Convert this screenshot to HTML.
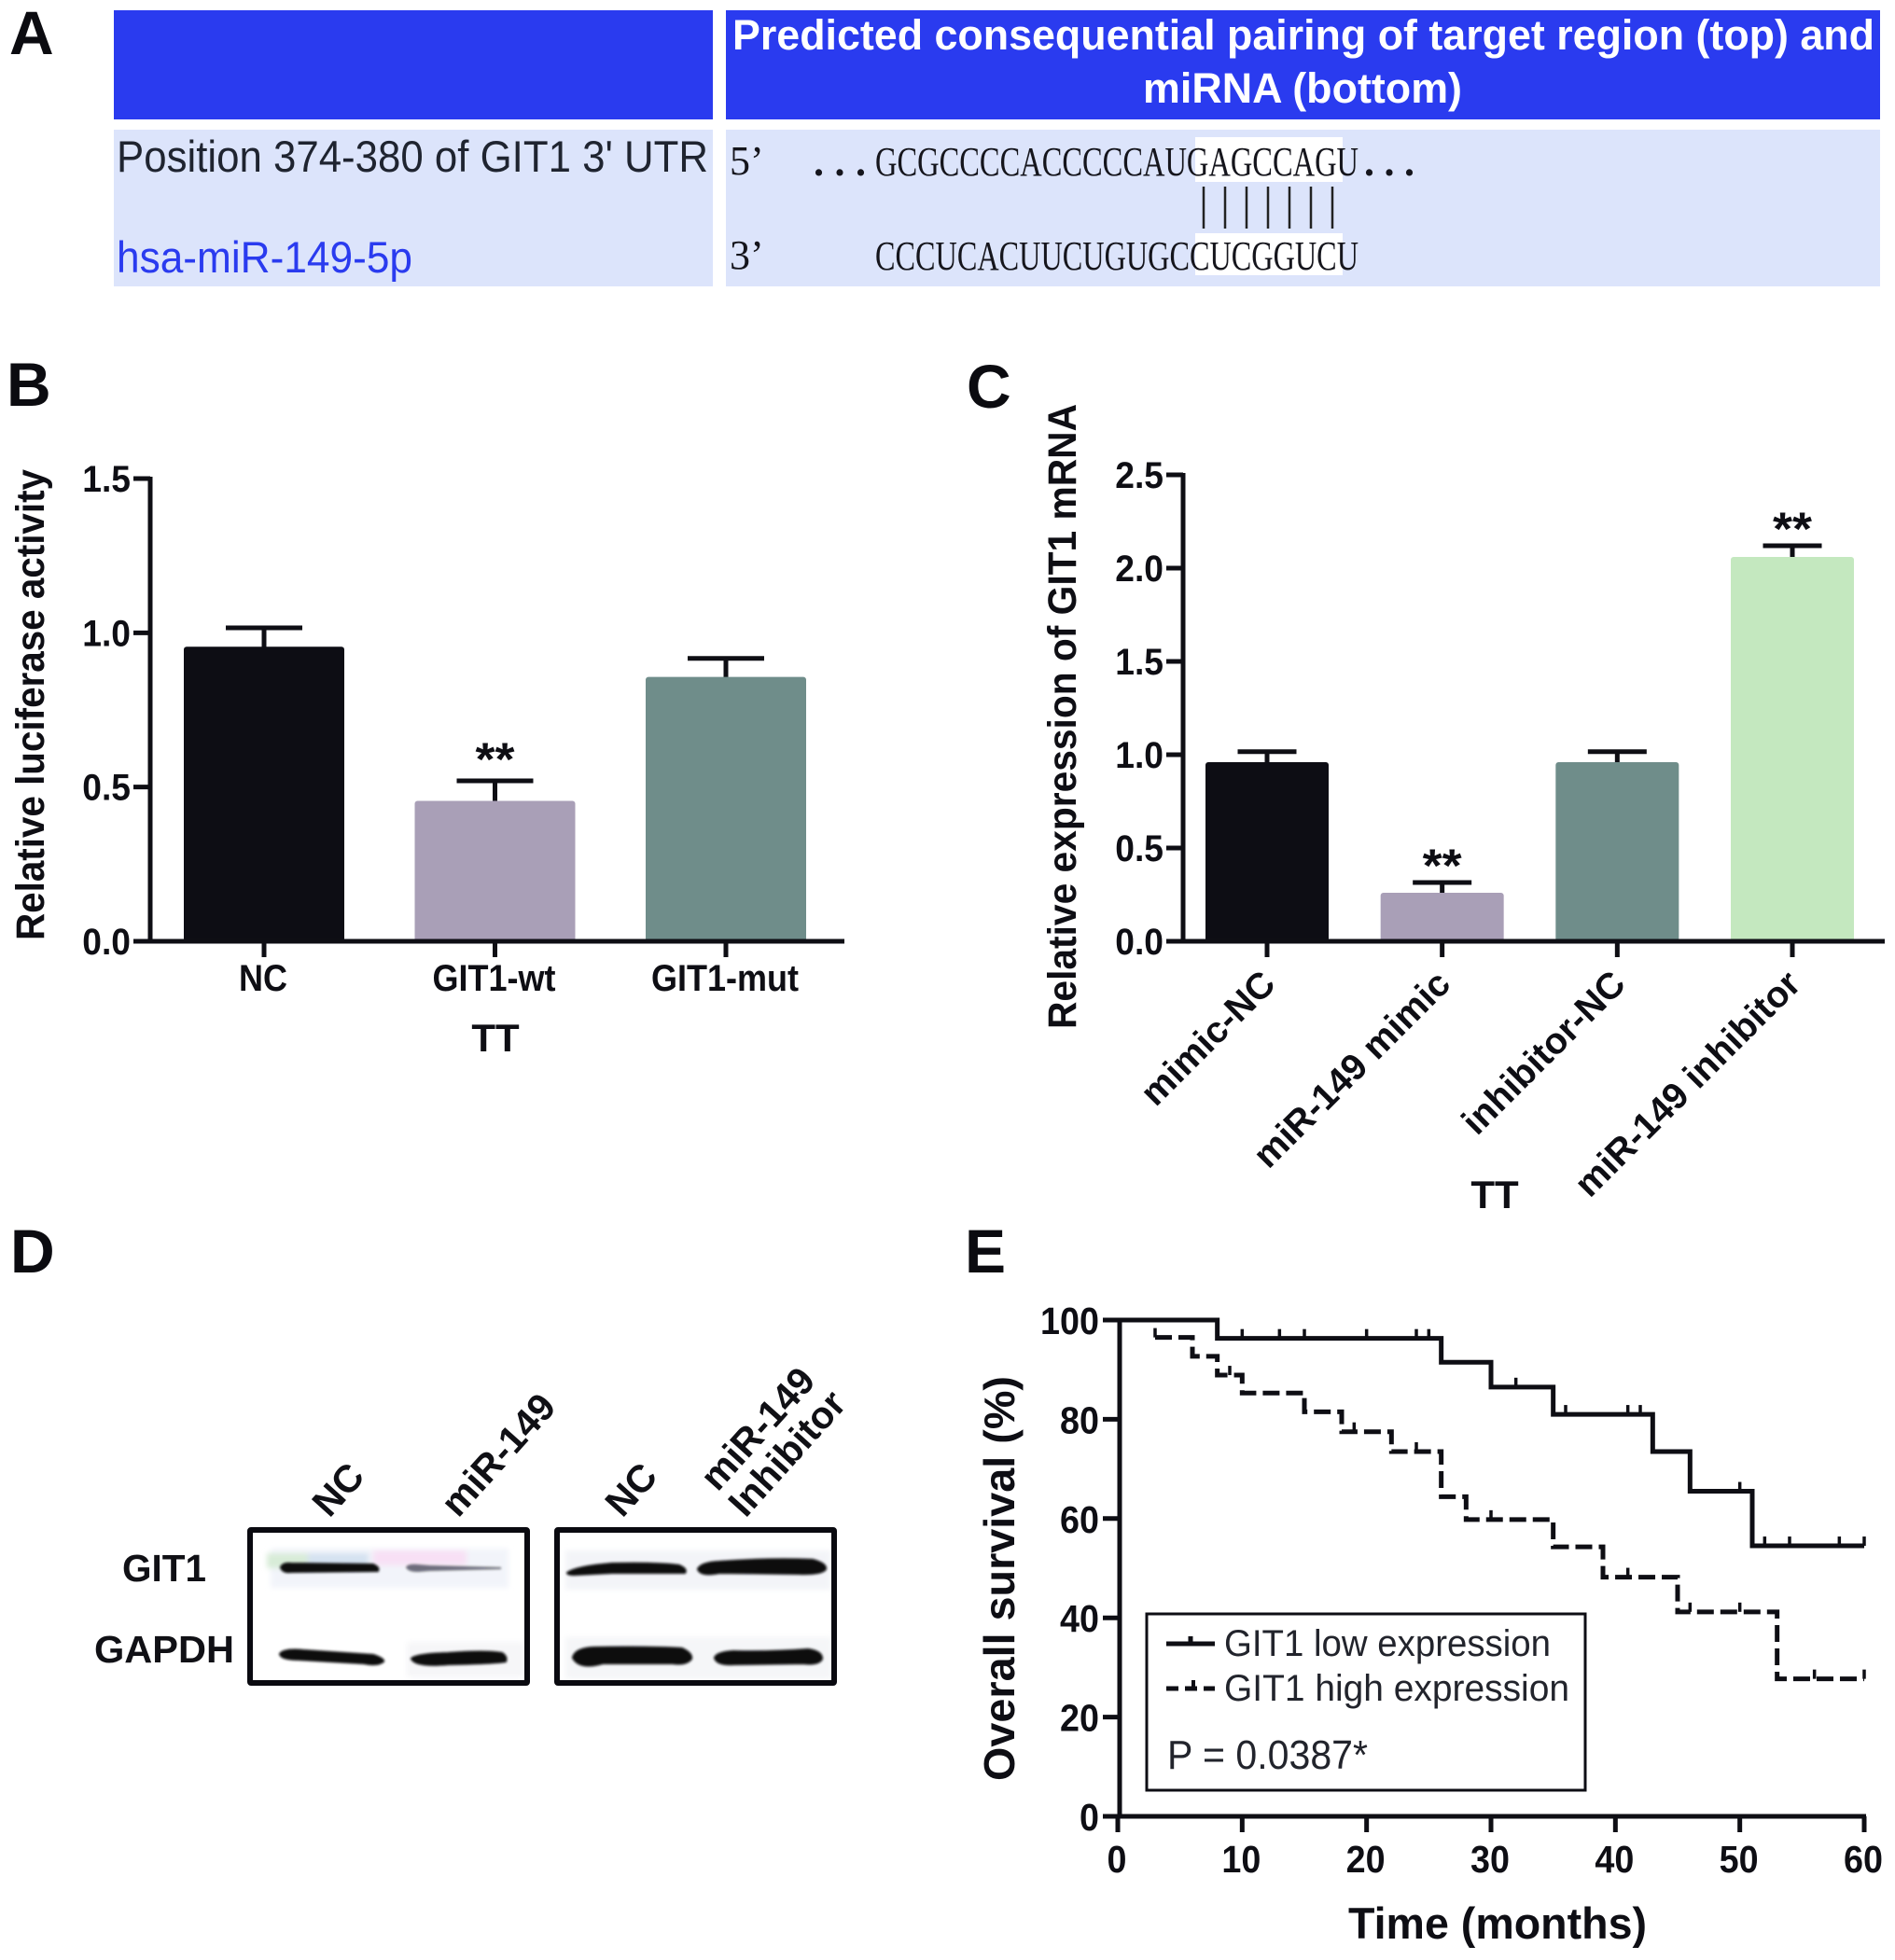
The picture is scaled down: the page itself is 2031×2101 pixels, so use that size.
<!DOCTYPE html>
<html lang="en">
<head>
<meta charset="utf-8">
<title>miR-149 GIT1 figure</title>
<style>
  html, body { margin: 0; padding: 0; background: #fff; }
  svg { display: block; font-family: "Liberation Sans", sans-serif; }
</style>
</head>
<body>
<svg id="fig" xmlns="http://www.w3.org/2000/svg" width="2031" height="2101" viewBox="0 0 2031 2101">
  <defs>
    <filter id="soft" x="-10%" y="-80%" width="120%" height="260%"><feGaussianBlur stdDeviation="1.2"/></filter>
    <filter id="softer" x="-10%" y="-30%" width="120%" height="160%"><feGaussianBlur stdDeviation="3"/></filter>
  </defs>
  <rect width="2031" height="2101" fill="#fff"/>

  <!-- Panel letters -->
  <g font-weight="700" font-size="66" fill="#0b0b10">
    <text x="10" y="58">A</text>
    <text x="7" y="435">B</text>
    <text x="1036" y="437">C</text>
    <text x="11" y="1364">D</text>
    <text x="1034" y="1364">E</text>
  </g>

  <!-- Panel A -->
  <g>
    <rect x="122" y="11" width="642" height="117" fill="#2a3bef"/>
    <rect x="778" y="11" width="1237" height="117" fill="#2a3bef"/>
    <rect x="122" y="139" width="642" height="168" fill="#dce4fb"/>
    <rect x="778" y="139" width="1237" height="168" fill="#dce4fb"/>
    <rect x="1281" y="147" width="158" height="48" fill="#fff"/>
    <rect x="1281" y="250" width="158" height="45" fill="#fff"/>
    <text x="785" y="53" fill="#fff" font-weight="700" font-size="45" textLength="1224" lengthAdjust="spacingAndGlyphs">Predicted consequential pairing of target region (top) and</text>
    <text x="1225" y="110" fill="#fff" font-weight="700" font-size="45" textLength="342" lengthAdjust="spacingAndGlyphs">miRNA (bottom)</text>
    <text x="125" y="184" fill="#1f2430" font-size="47" textLength="634" lengthAdjust="spacingAndGlyphs">Position 374-380 of GIT1 3' UTR</text>
    <text x="125" y="292" fill="#2a3bef" font-size="47" textLength="317" lengthAdjust="spacingAndGlyphs">hsa-miR-149-5p</text>
    <g font-family="'Liberation Serif', serif" fill="#15151c" font-size="44">
      <text x="782" y="187">5’</text>
      <text x="782" y="288">3’</text>
      <text x="872" y="188" font-weight="700" textLength="56">...</text>
      <text x="938" y="188" textLength="518" lengthAdjust="spacingAndGlyphs">GCGCCCCACCCCCAUGAGCCAGU</text>
      <text x="1462" y="188" font-weight="700" textLength="54">...</text>
      <text x="938" y="289" textLength="518" lengthAdjust="spacingAndGlyphs">CCCUCACUUCUGUGCCUCGGUCU</text>
    </g>
    <g stroke="#222" stroke-width="2.5">
      <line x1="1290" y1="200" x2="1290" y2="245"/><line x1="1313" y1="200" x2="1313" y2="245"/>
      <line x1="1336" y1="200" x2="1336" y2="245"/><line x1="1359" y1="200" x2="1359" y2="245"/>
      <line x1="1382" y1="200" x2="1382" y2="245"/><line x1="1405" y1="200" x2="1405" y2="245"/>
      <line x1="1428" y1="200" x2="1428" y2="245"/>
    </g>
  </g>

  <!-- Panel D -->
  <g>
    <g filter="url(#softer)">
      <rect x="290" y="1660" width="255" height="42" fill="#f2f4fa"/>
      <rect x="606" y="1662" width="284" height="42" fill="#f3f4f8"/>
      <rect x="436" y="1760" width="126" height="38" fill="#f6f6f8"/>
      <rect x="606" y="1755" width="285" height="45" fill="#f5f6f8"/>
      <rect x="286" y="1665" width="55" height="16" fill="#d8ecd8"/>
      <rect x="330" y="1665" width="65" height="16" fill="#d5e2f1"/>
      <rect x="400" y="1662" width="100" height="16" fill="#f8e0f5"/>
    </g>
    <g fill="#0a0a0e" stroke="#0a0a0e" stroke-width="2" filter="url(#soft)">
      <path d="M301 1680Q303 1675 312 1676L400 1677Q407 1680 405 1684L312 1685Q303 1686 301 1680Z"/>
      <path stroke="none" d="M435 1680Q437 1676 448 1677L460 1678L537 1680L537 1682L460 1684L448 1685Q437 1685 435 1680Z" opacity="0.55"/>
      <path transform="translate(-4,0)" d="M612 1686Q622 1679 660 1676Q710 1675 732 1678Q741 1682 738 1686L660 1686L620 1688Q612 1688 612 1686Z"/>
      <path transform="translate(-4,0)" d="M752 1682Q755 1675 775 1674Q830 1670 875 1672Q890 1676 889 1682Q885 1688 860 1687L775 1686Q755 1690 752 1682Z"/>
      <path d="M300 1773Q304 1767 325 1769L400 1774Q412 1778 411 1781Q405 1786 390 1783L320 1779Q301 1779 300 1773Z"/>
      <path d="M441 1778Q445 1773 480 1772Q520 1769 538 1772Q544 1776 542 1781Q530 1783 480 1784Q445 1787 441 1778Z"/>
      <path transform="translate(-4,0)" d="M618 1777Q620 1767 640 1766Q700 1765 735 1767Q746 1772 745 1778Q740 1785 725 1783L650 1783Q625 1790 618 1777Z"/>
      <path transform="translate(-4,0)" d="M770 1777Q772 1771 790 1770Q830 1771 870 1768Q885 1770 885 1778Q882 1785 865 1783L790 1784Q772 1785 770 1777Z"/>
    </g>
    <rect x="268" y="1640" width="297" height="164" fill="none" stroke="#0a0a10" stroke-width="6" rx="1"/>
    <rect x="597" y="1640" width="297" height="164" fill="none" stroke="#0a0a10" stroke-width="6" rx="1"/>
    <g font-weight="700" font-size="41" fill="#101015">
      <text x="131" y="1695" textLength="90" lengthAdjust="spacingAndGlyphs">GIT1</text>
      <text x="101" y="1782" textLength="150" lengthAdjust="spacingAndGlyphs">GAPDH</text>
      <text transform="translate(353,1628) rotate(-48)">NC</text>
      <text transform="translate(491,1628) rotate(-48)">miR-149</text>
      <text transform="translate(667,1628) rotate(-48)">NC</text>
      <text transform="translate(769,1600) rotate(-48)">miR-149</text>
      <text transform="translate(799,1628) rotate(-48)">Inhibitor</text>
    </g>
  </g>

  <g id="panelB"></g>
  <g id="panelC"></g>
  <g id="panelE"></g>
</svg>

<script>
// Panel B data
const bCategories = ['NC', 'GIT1-wt', 'GIT1-mut'];
const bValues = [0.955, 0.455, 0.857];
const bErrors = [0.061, 0.065, 0.06];
const bStars = ['', '**', ''];
const bTicks = [0, 0.5, 1.0, 1.5];
// Panel C data
const cCategories = ['mimic-NC', 'miR-149 mimic', 'inhibitor-NC', 'miR-149 inhibitor'];
const cValues = [0.96, 0.26, 0.96, 2.06];
const cErrors = [0.056, 0.055, 0.056, 0.06];
const cStars = ['', '**', '', '**'];
const cTicks = [0, 0.5, 1.0, 1.5, 2.0, 2.5];
// Panel E data
const eMonthTicks = [0, 10, 20, 30, 40, 50, 60];
const eSurvivalTicks = [0, 20, 40, 60, 80, 100];
const lowMonths = [0, 8, 26, 30, 35, 43, 46, 51, 60];
const lowSurvival = [100, 96.3, 91.5, 86.5, 81, 73.5, 65.5, 54.5, 54.5];
const lowCensored = [10, 13, 15, 20, 24, 25, 32, 36, 41, 42, 50, 52, 54, 58, 60];
const highMonths = [3, 6, 8, 10, 15, 18, 22, 26, 28, 35, 39, 45, 53, 60];
const highSurvival = [96.5, 92.7, 88.9, 85.3, 81.5, 77.5, 73.5, 64.4, 59.8, 54.3, 48.2, 41.2, 27.7, 27.7];
const highCensored = [3, 9, 19, 24, 30, 41, 46, 50, 56, 60];

const NS = 'http://www.w3.org/2000/svg';
const INK = '#0e0e14';

function mk(parent, tag, attrs, text) {
  const el = document.createElementNS(NS, tag);
  for (const k in attrs) el.setAttribute(k, attrs[k]);
  if (text !== undefined) el.textContent = text;
  parent.appendChild(el);
  return el;
}
function scaleLinear(d0, d1, r0, r1) {
  return v => r0 + (v - d0) * (r1 - r0) / (d1 - d0);
}
function slug(s) {
  return String(s).toLowerCase().replace(/[^a-z0-9]+/g, '-');
}
// Narrow a text horizontally: the reference type is tall and condensed.
function condense(el, ratio) {
  el.setAttribute('textLength', el.getComputedTextLength() * ratio);
  el.setAttribute('lengthAdjust', 'spacingAndGlyphs');
}

function drawBarChart(root, cfg) {
  const y = scaleLinear(cfg.ticks[0], cfg.ticks[cfg.ticks.length - 1], cfg.y0, cfg.yTop);
  const n = cfg.categories.length;
  const x = i => cfg.xFirst + i * (cfg.xLast - cfg.xFirst) / (n - 1);

  cfg.categories.forEach((cat, i) => {
    const cx = x(i);
    const top = y(cfg.values[i]);
    const errTop = y(cfg.values[i] + cfg.errors[i]);
    const stem = mk(root, 'line', { x1: cx, x2: cx, y1: errTop, y2: top + 3, stroke: INK, 'stroke-width': 5 });
    
    
    const cap = mk(root, 'line', { x1: cx - cfg.capW / 2, x2: cx + cfg.capW / 2, y1: errTop, y2: errTop, stroke: INK, 'stroke-width': 5 });
    
    
    const bar = mk(root, 'rect', { x: cx - cfg.barW / 2, y: top, width: cfg.barW, height: cfg.y0 - top, rx: 3, fill: cfg.colors[i] });
    
    
    const tick = mk(root, 'line', { x1: cx, x2: cx, y1: cfg.y0, y2: cfg.y0 + 17, stroke: INK, 'stroke-width': 5 });
    
    
    const attrs = { 'font-weight': 700, 'font-size': cfg.catFont, fill: INK };
    if (cfg.catRotate) {
      attrs['text-anchor'] = 'end';
      attrs.transform = 'translate(' + (cx + cfg.catDx) + ',' + cfg.catY + ') rotate(' + cfg.catRotate + ')';
    } else {
      attrs['text-anchor'] = 'middle';
      attrs.x = cx + cfg.catDx;
      attrs.y = cfg.catY;
    }
    const lab = mk(root, 'text', attrs, cat);
    
    
    if (!cfg.catRotate) condense(lab, 0.9);
    if (cfg.stars[i]) {
      const st = mk(root, 'text', { x: cx - 21, y: errTop + cfg.starDy, 'font-weight': 700, 'font-size': 50, fill: INK, textLength: 42, lengthAdjust: 'spacingAndGlyphs' }, cfg.stars[i]);
      
      
    }
  });

  const yAxis = mk(root, 'line', { x1: cfg.xAxis, x2: cfg.xAxis, y1: cfg.yTop - 2, y2: cfg.y0 + 2, stroke: INK, 'stroke-width': 5 });
  
  
  const xAxisLine = mk(root, 'line', { x1: cfg.xAxis - 18, x2: cfg.xEnd, y1: cfg.y0, y2: cfg.y0, stroke: INK, 'stroke-width': 5 });
  
  

  cfg.ticks.forEach(t => {
    const yy = y(t);
    const tk = mk(root, 'line', { x1: cfg.xAxis - 18, x2: cfg.xAxis, y1: yy, y2: yy, stroke: INK, 'stroke-width': 5 });
    
    
    const lb = mk(root, 'text', { x: cfg.xAxis - 21, y: yy + 14, 'text-anchor': 'end', 'font-weight': 700, 'font-size': 40, fill: INK }, t.toFixed(1));
    
    
    condense(lb, 0.93);
  });

  const title = mk(root, 'text', { transform: 'translate(' + cfg.titleX + ',' + cfg.titleBottom + ') rotate(-90)', 'font-weight': 700, 'font-size': 43, fill: INK, textLength: cfg.titleLen, lengthAdjust: 'spacingAndGlyphs' }, cfg.title);
  
  
  const grp = mk(root, 'text', { x: cfg.groupX, y: cfg.groupY, 'text-anchor': 'middle', 'font-weight': 700, 'font-size': 42, fill: INK }, 'TT');
  
  
}

drawBarChart(document.getElementById('panelB'), {
  categories: bCategories, values: bValues, errors: bErrors, stars: bStars, ticks: bTicks,
  colors: ['#0d0d14', '#a99fb7', '#6f8d8a'],
  y0: 1009, yTop: 513, xFirst: 283, xLast: 778, barW: 172, capW: 82, xAxis: 161, xEnd: 905,
  catFont: 40, catY: 1062, catDx: -1, starDy: -6,
  title: 'Relative luciferase activity', titleX: 47, titleBottom: 1008, titleLen: 505,
  groupX: 531, groupY: 1127
});

drawBarChart(document.getElementById('panelC'), {
  categories: cCategories, values: cValues, errors: cErrors, stars: cStars, ticks: cTicks,
  colors: ['#0d0d14', '#a99fb7', '#6f8d8a', '#c4e8bf'],
  y0: 1009, yTop: 509, xFirst: 1358, xLast: 1921, barW: 132, capW: 63, xAxis: 1268, xEnd: 2020,
  catFont: 39.5, catY: 1057, catDx: 11, catRotate: -45, starDy: -1,
  title: 'Relative expression of GIT1 mRNA', titleX: 1153, titleBottom: 1103, titleLen: 670,
  groupX: 1602, groupY: 1295
});

// Panel E
(function () {
  const root = document.getElementById('panelE');
  const X = scaleLinear(0, 60, 1198, 1998);
  const Y = scaleLinear(0, 100, 1947, 1415);

  function stepPath(months, surv) {
    let d = 'M' + X(months[0]) + ' ' + Y(surv[0]);
    for (let i = 0; i < months.length; i++) {
      d += 'L' + X(months[i]) + ' ' + Y(surv[i]);
      if (i < months.length - 1) d += 'L' + X(months[i + 1]) + ' ' + Y(surv[i]);
    }
    return d;
  }
  function survAt(months, surv, m) {
    let v = surv[0];
    for (let i = 0; i < months.length; i++) if (months[i] <= m) v = surv[i];
    return v;
  }

  const high = mk(root, 'path', { d: stepPath(highMonths, highSurvival), fill: 'none', stroke: INK, 'stroke-width': 5, 'stroke-dasharray': '18 7' });
  
  
  const low = mk(root, 'path', { d: stepPath(lowMonths, lowSurvival), fill: 'none', stroke: INK, 'stroke-width': 5 });
  
  

  lowCensored.forEach(m => {
    const yy = Y(survAt(lowMonths, lowSurvival, m));
    const c = mk(root, 'line', { x1: X(m), x2: X(m), y1: yy, y2: yy - 10, stroke: INK, 'stroke-width': 3.5 });
    
    
  });
  highCensored.forEach(m => {
    const yy = Y(survAt(highMonths, highSurvival, m));
    const c = mk(root, 'line', { x1: X(m), x2: X(m), y1: yy, y2: yy - 10, stroke: INK, 'stroke-width': 3.5 });
    
    
  });

  const ya = mk(root, 'line', { x1: X(0) + 2, x2: X(0) + 2, y1: Y(100) - 2, y2: Y(0) + 2, stroke: INK, 'stroke-width': 5 });
  
  
  const xa = mk(root, 'line', { x1: X(0), x2: X(60) + 2, y1: Y(0), y2: Y(0), stroke: INK, 'stroke-width': 5 });
  
  

  eSurvivalTicks.forEach(t => {
    const tk = mk(root, 'line', { x1: X(0) - 16, x2: X(0) + 2, y1: Y(t), y2: Y(t), stroke: INK, 'stroke-width': 5 });
    
    
    const lb = mk(root, 'text', { x: X(0) - 20, y: Y(t) + 15, 'text-anchor': 'end', 'font-weight': 700, 'font-size': 41, fill: INK }, t);
    
    
    condense(lb, 0.92);
  });
  eMonthTicks.forEach(t => {
    const tk = mk(root, 'line', { x1: X(t), x2: X(t), y1: Y(0), y2: Y(0) + 17, stroke: INK, 'stroke-width': 5 });
    
    
    const lb = mk(root, 'text', { x: X(t) - 1, y: 2007, 'text-anchor': 'middle', 'font-weight': 700, 'font-size': 41, fill: INK }, t);
    
    
    condense(lb, 0.92);
  });

  const xt = mk(root, 'text', { x: 1445, y: 2078, 'font-weight': 700, 'font-size': 47, fill: INK, textLength: 320, lengthAdjust: 'spacingAndGlyphs' }, 'Time (months)');
  
  
  const yt = mk(root, 'text', { transform: 'translate(1087,1909) rotate(-90)', 'font-weight': 700, 'font-size': 46, fill: INK, textLength: 434, lengthAdjust: 'spacingAndGlyphs' }, 'Overall survival (%)');
  
  

  const box = mk(root, 'rect', { x: 1229, y: 1730, width: 470, height: 189, fill: '#fff', stroke: INK, 'stroke-width': 3 });
  
  
  const k1 = mk(root, 'path', { d: 'M1250 1762H1302M1276 1762V1754', fill: 'none', stroke: INK, 'stroke-width': 5 });
  
  
  const k2 = mk(root, 'path', { d: 'M1250 1810H1302', fill: 'none', stroke: INK, 'stroke-width': 5, 'stroke-dasharray': '13 7' });
  
  
  const k2t = mk(root, 'line', { x1: 1279, x2: 1279, y1: 1810, y2: 1801, stroke: INK, 'stroke-width': 4 });
  
  
  const l1 = mk(root, 'text', { x: 1312, y: 1775, 'font-size': 40, fill: '#22242c', textLength: 350, lengthAdjust: 'spacingAndGlyphs' }, 'GIT1 low expression');
  
  
  const l2 = mk(root, 'text', { x: 1312, y: 1823, 'font-size': 40, fill: '#22242c', textLength: 370, lengthAdjust: 'spacingAndGlyphs' }, 'GIT1 high expression');
  
  
  const p = mk(root, 'text', { x: 1251, y: 1896, 'font-size': 44, fill: '#22242c', textLength: 215, lengthAdjust: 'spacingAndGlyphs' }, 'P = 0.0387*');
  
  
})();
</script>
</body>
</html>
